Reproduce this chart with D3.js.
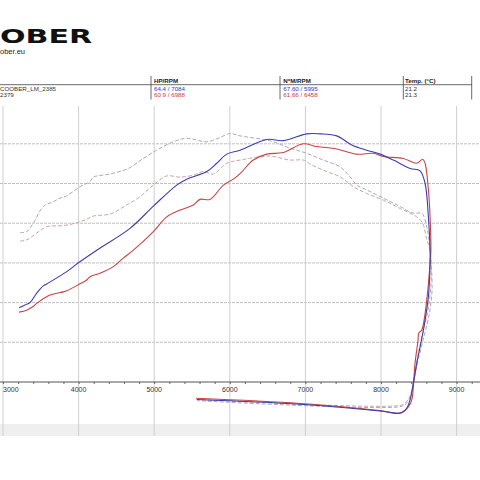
<!DOCTYPE html>
<html><head><meta charset="utf-8">
<script src="https://cdn.jsdelivr.net/npm/d3@7"></script>
<style>html,body{margin:0;padding:0;background:#fff;}svg{display:block;font-family:"Liberation Sans",Arial,sans-serif;}</style>
</head><body><svg id="c" width="480" height="480"></svg>
<script>
// ---- data ----
const rpmTicks = [3000,4000,5000,6000,7000,8000,9000];
const valueGrid = [10,20,30,40,50,60];
const headerCols = ["HP/RPM","N*M/RPM","Temp. (°C)"];
const runNames = ["COOBER_LM_2385","2379"];
const hpText = ["64.4 / 7084","60.9 / 6988"];
const nmText = ["67.60 / 5995","61.66 / 6458"];
const tempText = ["21.2","21.3"];

// run 1 power (blue, solid) [rpm, value]
const run1Power = [[3212,18.7],[3291,19.4],[3357,20.0],[3446,22.4],[3533,24.2],[3578,24.7],[3843,27.8],[3988,29.9],[4240,33.2],[4680,38.7],[4989,44.3],[5298,49.6],[5430,51.1],[5695,53.0],[5827,55.1],[5960,57.4],[6136,58.4],[6489,61.1],[6708,60.8],[7018,62.5],[7194,62.5],[7415,62.0],[7613,59.7],[7811,58.4],[7988,57.4],[8164,55.9],[8385,53.8],[8517,53.2],[8583,50.0],[8627,41.6],[8649,33.2],[8649,29.9],[8627,21.5],[8561,13.1],[8473,4.7],[8428,-0.3],[8385,-4.5],[8341,-6.6],[8275,-7.7],[8226,-7.9],[7988,-7.3],[6929,-5.6],[5563,-4.4]];
// run 2 power (red, solid)
const run2Power = [[3212,17.6],[3313,18.1],[3397,19.0],[3446,19.8],[3622,21.9],[3798,22.7],[3843,23.0],[3988,24.4],[4107,25.7],[4151,26.5],[4283,27.4],[4455,29.0],[4592,31.2],[4724,33.2],[4989,37.9],[5166,41.6],[5342,43.3],[5518,44.6],[5606,46.0],[5739,46.0],[5915,49.6],[6047,51.1],[6136,52.5],[6311,55.9],[6489,57.4],[6708,57.8],[6973,60.0],[7150,59.3],[7415,58.7],[7679,57.4],[7899,57.6],[8032,56.8],[8296,56.3],[8473,55.1],[8552,56.1],[8583,55.1],[8627,48.4],[8649,41.6],[8660,33.2],[8655,31.6],[8610,21.5],[8539,13.1],[8500,12.3],[8490,10.5],[8450,4.7],[8428,-1.2],[8407,-4.5],[8363,-6.2],[8297,-7.5],[8230,-7.9],[7988,-7.2],[6929,-5.4],[5553,-4.1]];
// run 1 torque (grey, dashed)
const run1Torque = [[3225,37.6],[3313,37.9],[3401,40.0],[3533,44.2],[3665,45.4],[3754,46.3],[3843,46.9],[4019,49.2],[4151,50.5],[4195,51.6],[4416,52.4],[4658,53.8],[4856,56.3],[5033,58.4],[5253,60.5],[5430,61.4],[5695,60.5],[5871,61.6],[6003,62.6],[6136,62.0],[6444,61.1],[6576,60.5],[6797,58.9],[7018,57.6],[7238,55.9],[7458,54.2],[7591,51.7],[7679,49.6],[7811,48.4],[8032,46.3],[8253,44.2],[8429,42.5],[8539,42.5],[8605,39.1],[8649,33.2],[8675,23.2],[8636,16.9],[8557,10.6],[8477,4.3],[8424,-0.8],[8385,-3.8],[8331,-5.5],[8252,-6.2],[5566,-4.7]];
// run 2 torque (pink, dashed)
const run2Torque = [[3225,35.5],[3313,35.8],[3446,37.5],[3578,39.1],[3798,39.4],[3975,40.1],[4107,41.0],[4195,41.8],[4416,42.3],[4636,44.6],[4813,46.7],[4989,49.6],[5166,51.9],[5342,51.6],[5518,52.1],[5650,53.0],[5782,52.4],[5960,55.1],[6136,55.9],[6532,56.9],[6797,55.9],[6973,55.9],[7062,54.9],[7283,53.0],[7458,51.7],[7635,49.2],[7811,47.5],[8032,45.8],[8253,43.7],[8473,41.6],[8552,39.9],[8605,35.8],[8649,33.2],[8662,25.7],[8622,18.1],[8543,11.8],[8477,5.5],[8424,-0.3],[8385,-3.5],[8318,-5.3],[8252,-5.9],[5566,-4.4]];

// ---- scales ----
const svg = d3.select("#c");
const x = d3.scaleLinear().domain([3000,9000]).range([3,456.6]);
const y = d3.scaleLinear().domain([0,60]).range([382,143.8]);
const plotTop = 106, bandTop = 424, bandBot = 436;

svg.append("rect").attr("width",480).attr("height",480).attr("fill","#fff");

// logo
svg.append("text").attr("x",0).attr("y",43).attr("font-family","DejaVu Sans")
  .attr("font-weight","bold").attr("font-size",20).attr("textLength",92)
  .attr("lengthAdjust","spacingAndGlyphs").attr("fill","#111").text("OBER");
svg.append("text").attr("x",0).attr("y",54).attr("font-size",7.5).attr("fill","#222").text("ober.eu");

// header table
svg.append("line").attr("x1",0).attr("x2",472).attr("y1",84.7).attr("y2",84.7).attr("stroke","#444").attr("stroke-width",0.8);
[151,280,403.3,471.7].forEach(px=>{
  svg.append("line").attr("x1",px).attr("x2",px).attr("y1",76).attr("y2",99.5).attr("stroke","#444").attr("stroke-width",0.8);
});
const colX = [154,283.3,405];
headerCols.forEach((t,i)=>svg.append("text").attr("x",colX[i]).attr("y",83.3).attr("font-size",6.2).attr("font-weight","bold").attr("fill","#222").text(t));
const rowY = [91,96.5];
const runColors = ["#3434c8","#d03838"];
runNames.forEach((t,i)=>svg.append("text").attr("x",0).attr("y",rowY[i]).attr("font-size",6.2).attr("fill","#333").text(t));
hpText.forEach((t,i)=>svg.append("text").attr("x",colX[0]).attr("y",rowY[i]).attr("font-size",6.2).attr("fill",runColors[i]).text(t));
nmText.forEach((t,i)=>svg.append("text").attr("x",colX[1]).attr("y",rowY[i]).attr("font-size",6.2).attr("fill",runColors[i]).text(t));
tempText.forEach((t,i)=>svg.append("text").attr("x",colX[2]).attr("y",rowY[i]).attr("font-size",6.2).attr("fill","#333").text(t));

// grey band
svg.append("rect").attr("x",0).attr("y",bandTop).attr("width",480).attr("height",bandBot-bandTop).attr("fill","#efefef");

// grid
svg.append("g").selectAll("line").data(valueGrid).join("line")
  .attr("x1",0).attr("x2",480).attr("y1",d=>y(d)).attr("y2",d=>y(d))
  .attr("stroke","#c0c0c0").attr("stroke-width",1).attr("stroke-dasharray","3,1");
svg.append("g").selectAll("line").data(rpmTicks).join("line")
  .attr("x1",d=>x(d)).attr("x2",d=>x(d)).attr("y1",plotTop).attr("y2",bandBot)
  .attr("stroke","#cfcfcf").attr("stroke-width",1);

// x axis
const axis = d3.axisBottom(x).tickValues(d3.range(2800,9400,200)).tickSize(2).tickFormat("");
const ag = svg.append("g").attr("transform","translate(0,382)").call(axis);
ag.select(".domain").remove();
ag.selectAll(".tick line").attr("stroke","#666");
svg.append("line").attr("x1",0).attr("x2",480).attr("y1",382).attr("y2",382).attr("stroke","#555").attr("stroke-width",1);
svg.append("g").selectAll("text").data(rpmTicks).join("text")
  .attr("x",d=>x(d)).attr("y",391.5)
  .attr("text-anchor",(d,i)=>i===0?"start":"middle")
  .attr("font-size",7).attr("fill","#333").text(d=>d);

// curves
const line = d3.line().x(d=>x(d[0])).y(d=>y(d[1])).curve(d3.curveCatmullRom.alpha(0.5));
const series = [
  {d:run1Torque, c:"#aaa8bc", dash:"4,2", w:1},
  {d:run2Torque, c:"#caa6a6", dash:"4,2", w:1},
  {d:run2Power, c:"#c84444", dash:null, w:1.1},
  {d:run1Power, c:"#3c3cb0", dash:null, w:1.1}
];
series.forEach(s=>{
  svg.append("path").attr("d",line(s.d)).attr("fill","none").attr("stroke",s.c)
    .attr("stroke-width",s.w).attr("stroke-dasharray",s.dash).attr("stroke-linejoin","round");
});
</script></body></html>
